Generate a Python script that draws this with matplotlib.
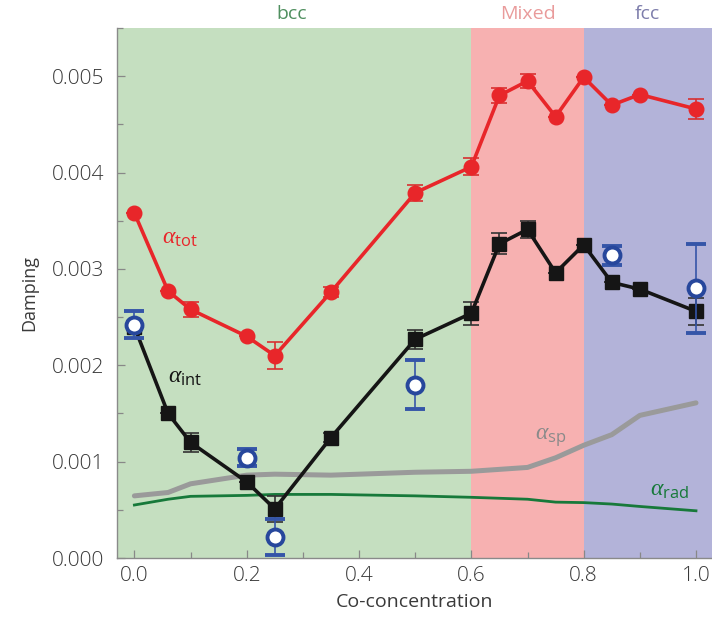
import matplotlib
matplotlib.use("Agg")
import matplotlib.pyplot as plt
from matplotlib.ticker import MultipleLocator, FormatStrFormatter

plt.rcParams['font.family'] = ['Open Sans', 'DejaVu Sans']
plt.rcParams['mathtext.fontset'] = 'custom'
plt.rcParams['mathtext.it'] = 'Liberation Serif:italic'
plt.rcParams['mathtext.rm'] = 'Open Sans'

# Total damping (filled red circles)
x_tot = [0.0, 0.06, 0.1, 0.2, 0.25, 0.35, 0.5, 0.6, 0.65, 0.7, 0.75, 0.8, 0.85, 0.9, 1.0]
a_tot = [3.58, 2.77, 2.58, 2.30, 2.10, 2.76, 3.79, 4.06, 4.80, 4.95, 4.58, 4.99, 4.70, 4.81, 4.66]
e_tot = [0.0, 0.0, 0.08, 0.0, 0.14, 0.05, 0.08, 0.09, 0.08, 0.07, 0.0, 0.0, 0.0, 0.0, 0.10]

# Intrinsic damping (black squares)
x_int = [0.0, 0.06, 0.1, 0.2, 0.25, 0.35, 0.5, 0.6, 0.65, 0.7, 0.75, 0.8, 0.85, 0.9, 1.0]
a_int = [2.40, 1.50, 1.20, 0.79, 0.51, 1.25, 2.27, 2.54, 3.26, 3.41, 2.96, 3.25, 2.86, 2.79, 2.56]
e_int = [0.0, 0.0, 0.10, 0.0, 0.135, 0.05, 0.10, 0.12, 0.11, 0.09, 0.0, 0.0, 0.0, 0.0, 0.14]

# Independent measurements (open blue circles)
x_meas = [0.0, 0.2, 0.25, 0.5, 0.85, 1.0]
a_meas = [2.42, 1.04, 0.22, 1.80, 3.14, 2.80]
e_meas = [0.14, 0.09, 0.19, 0.25, 0.10, 0.46]

# Spin-pumping contribution (grey)
x_sp = [0.0, 0.06, 0.1, 0.2, 0.25, 0.35, 0.5, 0.6, 0.7, 0.75, 0.8, 0.85, 0.9, 1.0]
a_sp = [0.645, 0.68, 0.77, 0.86, 0.87, 0.86, 0.89, 0.90, 0.94, 1.04, 1.17, 1.28, 1.48, 1.61]

# Radiative contribution (green)
x_rad = [0.0, 0.06, 0.1, 0.2, 0.25, 0.35, 0.5, 0.6, 0.65, 0.7, 0.75, 0.8, 0.85, 0.9, 1.0]
a_rad = [0.55, 0.61, 0.64, 0.65, 0.66, 0.66, 0.645, 0.63, 0.62, 0.61, 0.58, 0.575, 0.56, 0.535, 0.49]

# Structural phases
phase_names = ['bcc', 'Mixed', 'fcc']
phase_edges = [-0.05, 0.6, 0.8, 1.05]
phase_fill = ['#c5dfc0', '#f7b1b1', '#b3b3d9']
phase_text = ['#4f8f5f', '#e99b9b', '#7d7dab']

scale = 1e-3

fig = plt.figure(figsize=(7.12, 6.17), dpi=100)
ax = fig.add_axes([0.1643, 0.0956, 0.8357, 0.859])
xmin, xmax = -0.031, 1.0285
ax.set_xlim(xmin, xmax)
ax.set_ylim(0, 0.0055)

for i, name in enumerate(phase_names):
    lo, hi = max(phase_edges[i], xmin), min(phase_edges[i + 1], xmax)
    ax.axvspan(lo, hi, color=phase_fill[i], lw=0, zorder=0)

label_x = [0.28, 0.70, 0.913]
for name, lx, c in zip(phase_names, label_x, phase_text):
    ax.text(lx, 1.0 + 14 / 530, name, transform=ax.get_xaxis_transform(),
            ha='center', va='center', fontsize=14, color=c)

ax.plot(x_rad, [v * scale for v in a_rad], color='#17793a', lw=2.0, zorder=2)
ax.plot(x_sp, [v * scale for v in a_sp], color='#9a9a9a', lw=3.6, zorder=2,
        solid_capstyle='round')

ax.errorbar(x_tot, [v * scale for v in a_tot], yerr=[v * scale for v in e_tot],
            color='#e8262a', ecolor='#d83030', lw=2.6, elinewidth=1.2, capsize=6,
            capthick=1.2, marker='o', ms=10.5, zorder=4)
ax.errorbar(x_int, [v * scale for v in a_int], yerr=[v * scale for v in e_int],
            color='#151515', ecolor='#333333', lw=2.6, elinewidth=1.2, capsize=6,
            capthick=1.2, marker='s', ms=9.5, zorder=4)
ax.errorbar(x_meas, [v * scale for v in a_meas], yerr=[v * scale for v in e_meas],
            fmt='o', color='#27479c', ecolor='#3555a8', mfc='white', mec='#27479c',
            mew=2.8, ms=11.5, elinewidth=1.2, capsize=7, capthick=1.2, zorder=5)

lab_kw = dict(fontsize=17, va='center', ha='left')
ax.text(0.05, 3.32e-3, r'$\alpha_{\mathrm{tot}}$', color='#e8262a', **lab_kw)
ax.text(0.06, 1.88e-3, r'$\alpha_{\mathrm{int}}$', color='#151515', **lab_kw)
ax.text(0.713, 1.26e-3, r'$\alpha_{\mathrm{sp}}$', color='#8a8a8a', **lab_kw)
ax.text(0.918, 0.71e-3, r'$\alpha_{\mathrm{rad}}$', color='#17793a', **lab_kw)

for s in ['top', 'right']:
    ax.spines[s].set_visible(False)
for s in ['left', 'bottom']:
    ax.spines[s].set_color('#8a8a8a')
    ax.spines[s].set_linewidth(1.0)

ax.xaxis.set_major_locator(MultipleLocator(0.2))
ax.xaxis.set_minor_locator(MultipleLocator(0.1))
ax.yaxis.set_major_locator(MultipleLocator(0.001))
ax.yaxis.set_minor_locator(MultipleLocator(0.0005))
ax.xaxis.set_major_formatter(FormatStrFormatter('%.1f'))
ax.yaxis.set_major_formatter(FormatStrFormatter('%.3f'))
ax.tick_params(which='both', direction='in', color='#888888', labelcolor='#383838',
               labelsize=15, width=0.9)
ax.tick_params(which='major', length=6)
ax.tick_params(which='minor', length=4)
ax.tick_params(axis='y', pad=9)
ax.tick_params(axis='x', pad=6)
for lbl in ax.get_xticklabels() + ax.get_yticklabels():
    lbl.set_fontweight('light')

ax.set_xlabel('Co-concentration', fontsize=14, color='#3a3a3a', labelpad=5)
ax.set_ylabel('Damping', fontsize=13, color='#3a3a3a', labelpad=10)

fig.savefig('out.png', dpi=100)
